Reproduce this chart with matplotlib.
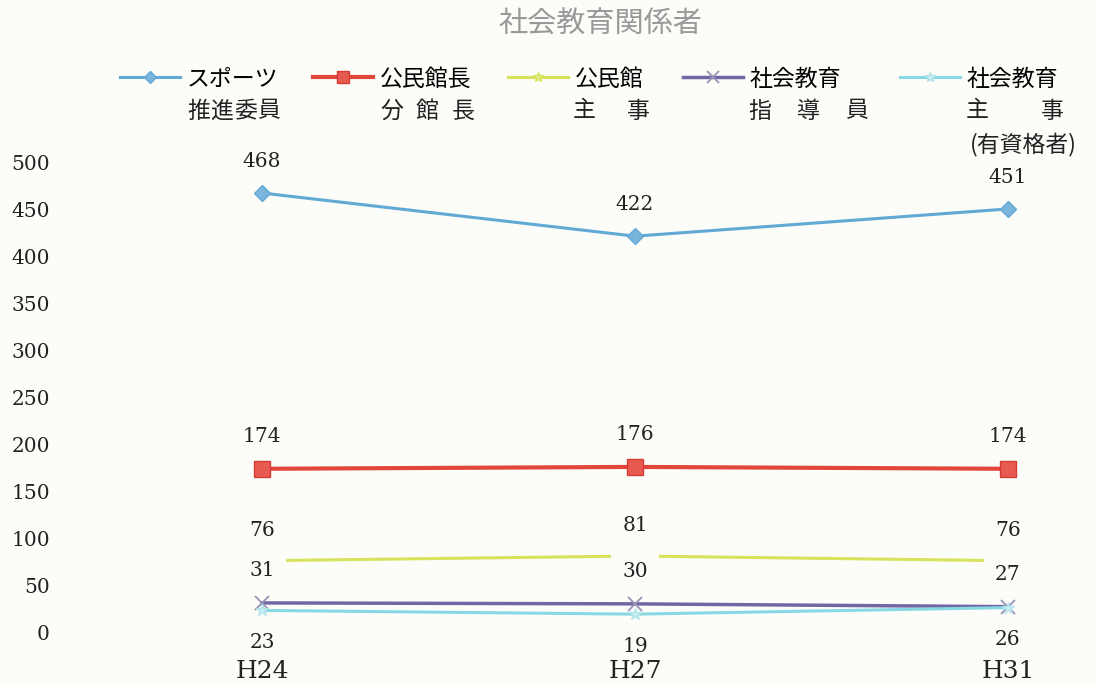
import matplotlib
matplotlib.use('Agg')
import matplotlib.pyplot as plt
from matplotlib.lines import Line2D
import numpy as np


# +
# data
# -
YEARS = ['H24', 'H27', 'H31']
SPORTS = [468, 422, 451]
KANCHOU = [174, 176, 174]
SHUJI = [76, 81, 76]
SHIDOUIN = [31, 30, 27]
SHUJI_Q = [23, 19, 26]

NAMES = ['スポーツ', '公民館長', '公民館', '社会教育', '社会教育']
SUBLINES = [['推進委員'], ['分館長'], ['主事'], ['指導員'], ['主事', '(有資格者)']]
TITLE = '社会教育関係者'
YTICKS = list(range(0, 501, 50))


# +
# layout helpers (pixel -> figure fraction)
# -
W, H = 1097, 685
BG = '#fcfcf9'
plt.rcParams['font.family'] = ['Noto Sans CJK JP', 'DejaVu Sans']


def fx(_x):
    return _x / W


def fy(_y):
    return 1.0 - _y / H


def spread(_fig, _text, _x0, _x1, _y, _fs=16.5, _cw=23):
    # distribute characters evenly between x0 and x1 (justified line)
    if len(_text) == 1:
        _fig.text(fx(_x0), fy(_y), _text, ha='left', va='center', fontsize=_fs, color='#222222')
        return
    _step = (_x1 - _x0 - _cw) / (len(_text) - 1)
    for _i, _c in enumerate(_text):
        _fig.text(fx(_x0 + _cw / 2 + _i * _step), fy(_y), _c, ha='center', va='center',
                  fontsize=_fs, color='#222222')


fig = plt.figure(figsize=(W / 100, H / 100), dpi=100, facecolor=BG)
ax_left, ax_right, ax_top, ax_bottom = 75, 1090, 163, 632
ax = fig.add_axes([fx(ax_left), fy(ax_bottom), fx(ax_right - ax_left), (ax_bottom - ax_top) / H])
ax.set_facecolor('none')

x = np.arange(len(YEARS))
scale = (1008 - 262) / 2.0
ax.set_xlim(-(262 - ax_left) / scale, 2 + (ax_right - 1008) / scale)
ax.set_ylim(0, 500)

l1, = ax.plot(x, SPORTS, color='#62a9d6', lw=2.2, marker='D', ms=8, mfc='#7ab6dc', mec='#62a9d6',
              clip_on=False, zorder=5)
l2, = ax.plot(x, KANCHOU, color='#e2453c', lw=3, marker='s', ms=11, mfc='#e85a50', mec='#d63c33',
              clip_on=False, zorder=5)
# yellow series: line is broken around its (blank) markers in the scan
ax.plot(x, SHUJI, color='#d8e35c', lw=2.2, marker='_', ms=34, mew=6, mec=BG,
        clip_on=False, zorder=3)
l4, = ax.plot(x, SHIDOUIN, color='#7367a3', lw=2.5, marker='x', ms=10, mew=1.3, mec='#9a93b8',
              clip_on=False, zorder=4)
l5, = ax.plot(x, SHUJI_Q, color='#86d9e2', lw=2.2, marker='*', ms=9, mfc='#c8eef2', mec='#b0e4ea',
              clip_on=False, zorder=4)
l3 = Line2D([], [], color='#d8e35c', lw=2.2, marker='*', ms=9, mfc='#e4ec8c', mec='#d8e35c')

# data labels
for _vals, _off in [(SPORTS, 23), (KANCHOU, 23), (SHUJI, 22), (SHIDOUIN, 23), (SHUJI_Q, -23)]:
    for _xi, _v in zip(x, _vals):
        ax.annotate(str(_v), (_xi, _v), xytext=(0, _off), textcoords='offset points',
                    ha='center', va='center', fontsize=14.5, family='DejaVu Serif', color='#222222',
                    zorder=6)

# axes styling
for _s in ax.spines.values():
    _s.set_visible(False)
ax.set_yticks(YTICKS)
ax.set_yticklabels([str(_t) for _t in YTICKS], family='DejaVu Serif', fontsize=14.5, color='#222222')
ax.set_xticks(x)
ax.set_xticklabels(YEARS, family='DejaVu Serif', fontsize=18, color='#222222')
ax.tick_params(axis='y', length=0, pad=18)
ax.tick_params(axis='x', length=0, pad=20)

# title
fig.text(fx(600), fy(25), TITLE, ha='center', va='center', fontsize=21, color='#999999')

# legend: one entry per block, first line in the legend, extra lines below
handle_x = [120, 313, 508, 683, 900]
label_x = [187, 380, 573, 748, 966]
sub_right = [[280], [475], [650], [868], [1064, 1090]]
for _h, _name, _hx in zip([l1, l2, l3, l4, l5], NAMES, handle_x):
    fig.legend(handles=[_h], labels=[_name], loc='center left', bbox_to_anchor=(fx(_hx), fy(79)),
               frameon=False, handlelength=2.6, handletextpad=0.3, borderpad=0, borderaxespad=0,
               fontsize=16.5, markerscale=0.8)
for _i, (_lines, _lx) in enumerate(zip(SUBLINES, label_x)):
    for _j, _t in enumerate(_lines):
        _y = 111 + 33 * _j
        if _t.startswith('('):
            fig.text(fx(970), fy(_y), _t, ha='left', va='center', fontsize=16.5, color='#222222')
        else:
            spread(fig, _t, _lx, sub_right[_i][_j], _y)

fig.savefig('out.png', dpi=100, facecolor=fig.get_facecolor())
